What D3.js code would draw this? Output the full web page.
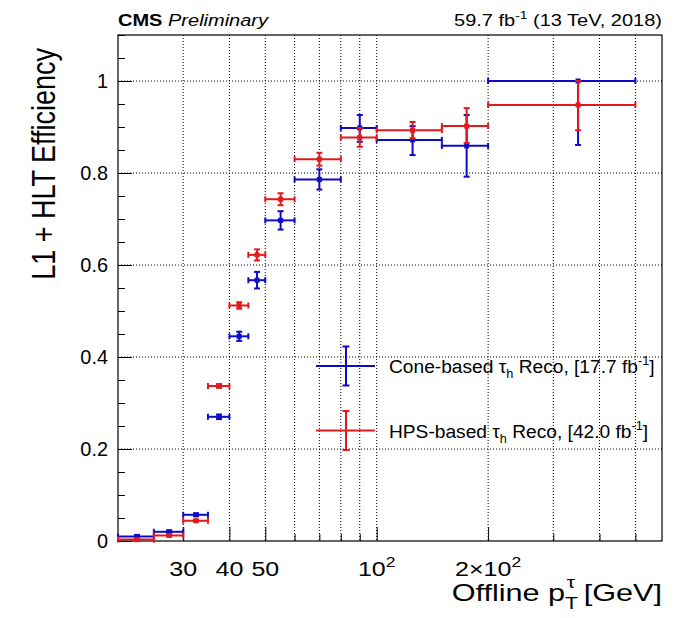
<!DOCTYPE html>
<html><head><meta charset="utf-8">
<script src="https://cdn.jsdelivr.net/npm/d3@7"></script>
<style>body{margin:0;background:#fff} text{font-family:"Liberation Sans",Arial,Helvetica,sans-serif;fill:#000}</style>
</head><body><svg id="c" width="677" height="618"></svg>
<script>
// ---- data ----
const binLow  = [20, 25, 30, 35, 40, 45, 50, 60, 80, 100, 150, 200];
const binHigh = [25, 30, 35, 40, 45, 50, 60, 80, 100, 150, 200, 500];
const coneEff     = [0.010, 0.020, 0.057, 0.270, 0.445, 0.567, 0.697, 0.786, 0.898, 0.872, 0.859, 1.000];
const coneErrLow  = [0.003, 0.003, 0.003, 0.005, 0.010, 0.018, 0.020, 0.022, 0.030, 0.033, 0.067, 0.139];
const coneErrHigh = [0.003, 0.003, 0.003, 0.005, 0.010, 0.018, 0.020, 0.022, 0.028, 0.030, 0.067, 0.000];
const hpsEff      = [0.003, 0.012, 0.044, 0.337, 0.512, 0.622, 0.743, 0.830, 0.877, 0.893, 0.902, 0.948];
const hpsErrLow   = [0.002, 0.002, 0.002, 0.004, 0.007, 0.012, 0.013, 0.014, 0.020, 0.018, 0.037, 0.055];
const hpsErrHigh  = [0.002, 0.002, 0.002, 0.004, 0.007, 0.012, 0.013, 0.014, 0.021, 0.018, 0.039, 0.052];
const seriesNames = ["Cone-based", "HPS-based"];
const seriesLumi  = ["17.7", "42.0"];
const xGridValues = [30, 40, 50, 60, 70, 80, 90, 100, 200, 300, 400, 500];
const xLabelValues = [30, 40, 50, 100, 200];
const xLabelMain   = ["30", "40", "50", "10", "2\u00D710"];
const xLabelSup    = ["", "", "", "2", "2"];
const yMajorTicks  = [0, 0.2, 0.4, 0.6, 0.8, 1.0];
const yTickLabels  = ["0", "0.2", "0.4", "0.6", "0.8", "1"];
const yMinorTicks  = d3.range(0, 1.1001, 0.05);

// ---- layout ----
const L = 118, R = 662, T = 35, B = 541;
const BLUE = "#0c0cc8", RED = "#e3191c";
const SX = 1.25; // horizontal stretch of the reference text
const svg = d3.select("#c");
const x = d3.scaleLog().domain([20, 590]).range([L, R]);
const y = d3.scaleLinear().domain([0, 1.1]).range([B, T]);

// grid
svg.append("g").selectAll("line").data(xGridValues).join("line")
  .attr("x1", d => x(d)).attr("x2", d => x(d)).attr("y1", T).attr("y2", B)
  .attr("stroke", "#000").attr("stroke-width", 1).attr("stroke-dasharray", "1,2");
svg.append("g").selectAll("line").data(yMajorTicks.filter(d => d > 0)).join("line")
  .attr("x1", L).attr("x2", R).attr("y1", d => y(d)).attr("y2", d => y(d))
  .attr("stroke", "#000").attr("stroke-width", 1).attr("stroke-dasharray", "1,2");

// y ticks (inward)
const yAxis = d3.axisRight(y).tickValues(yMinorTicks).tickSize(7).tickFormat("");
const gy = svg.append("g").attr("transform", `translate(${L},0)`).call(yAxis);
gy.select(".domain").remove();
gy.selectAll(".tick line").attr("x2", d => (Math.abs(d*5 - Math.round(d*5)) < 1e-6) ? 14 : 7).attr("stroke", "#000");
// x ticks (inward)
const xTickVals = [30,40,50,60,70,80,90,100,200,300,400,500];
const xAxis = d3.axisTop(x).tickValues(xTickVals).tickSize(7).tickFormat("");
const gx = svg.append("g").attr("transform", `translate(0,${B})`).call(xAxis);
gx.select(".domain").remove();
gx.selectAll(".tick line").attr("y2", d => xLabelValues.includes(d) ? -14 : -7).attr("stroke", "#000");

// frame
svg.append("rect").attr("x", L).attr("y", T).attr("width", R - L).attr("height", B - T)
  .attr("fill", "none").attr("stroke", "#000").attr("stroke-width", 1.2);

// y tick labels
yMajorTicks.forEach((v, i) => {
  svg.append("text").attr("transform", `translate(108,${y(v) + 7}) scale(1.02,1)`)
    .attr("text-anchor", "end").attr("font-size", 19.5).text(yTickLabels[i]);
});
// x tick labels
xLabelValues.forEach((v, i) => {
  const t = svg.append("text").attr("transform", `translate(${x(v)},576) scale(${SX},1)`)
    .attr("text-anchor", "middle").attr("font-size", 20);
  t.append("tspan").text(xLabelMain[i]);
  if (xLabelSup[i]) t.append("tspan").attr("dy", -9).attr("font-size", 14).text(xLabelSup[i]);
});

// axis titles
svg.append("text").attr("transform", `translate(55,48) rotate(-90) scale(1,${SX})`)
  .attr("text-anchor", "end").attr("font-size", 27).text("L1 + HLT Efficiency");
const xt = svg.append("text").attr("transform", `translate(662,601) scale(${SX},1)`)
  .attr("text-anchor", "end").attr("font-size", 24.5);
xt.append("tspan").text("Offline p");
xt.append("tspan").attr("font-size", 17).attr("dy", 8).text("T");
xt.append("tspan").attr("font-size", 17).attr("dx", -9).attr("dy", -21).text("\u03C4");
xt.append("tspan").attr("dy", 13).text("  [GeV]");

// header
const h1 = svg.append("text").attr("transform", `translate(118,26) scale(${SX},1)`).attr("font-size", 16);
h1.append("tspan").attr("font-weight", "bold").text("CMS");
h1.append("tspan").attr("font-style", "italic").text(" Preliminary");
const h2 = svg.append("text").attr("transform", `translate(662,26) scale(${SX},1)`).attr("text-anchor", "end").attr("font-size", 16);
h2.append("tspan").text("59.7 fb");
h2.append("tspan").attr("font-size", 11).attr("dy", -7).text("-1");
h2.append("tspan").attr("dy", 7).text(" (13 TeV, 2018)");

// series
function drawSeries(eff, eLo, eHi, color) {
  const g = svg.append("g").attr("stroke", color).attr("stroke-width", 2).attr("fill", color);
  const cap = 3;
  eff.forEach((v, i) => {
    const xl = x(binLow[i]), xh = x(binHigh[i]), xc = x((binLow[i] + binHigh[i]) / 2);
    const yc = y(v), yt = y(v + eHi[i]), yb = y(v - eLo[i]);
    g.append("line").attr("x1", xl).attr("x2", xh).attr("y1", yc).attr("y2", yc);
    g.append("line").attr("x1", xl).attr("x2", xl).attr("y1", yc - cap).attr("y2", yc + cap);
    g.append("line").attr("x1", xh).attr("x2", xh).attr("y1", yc - cap).attr("y2", yc + cap);
    g.append("line").attr("x1", xc).attr("x2", xc).attr("y1", yt).attr("y2", yb);
    g.append("line").attr("x1", xc - cap).attr("x2", xc + cap).attr("y1", yt).attr("y2", yt);
    g.append("line").attr("x1", xc - cap).attr("x2", xc + cap).attr("y1", yb).attr("y2", yb);
    g.append("rect").attr("x", xc - 2.5).attr("y", yc - 2.5).attr("width", 5).attr("height", 5).attr("stroke", "none");
  });
}
drawSeries(coneEff, coneErrLow, coneErrHigh, BLUE);
drawSeries(hpsEff, hpsErrLow, hpsErrHigh, RED);

// legend
[BLUE, RED].forEach((c, i) => {
  const cy = 366 + i * 64.5;
  const g = svg.append("g").attr("stroke", c).attr("stroke-width", 2);
  g.append("line").attr("x1", 316).attr("x2", 375).attr("y1", cy).attr("y2", cy);
  g.append("line").attr("x1", 346).attr("x2", 346).attr("y1", cy - 19.5).attr("y2", cy + 19.5);
  g.append("line").attr("x1", 342.5).attr("x2", 349.5).attr("y1", cy - 19.5).attr("y2", cy - 19.5);
  g.append("line").attr("x1", 342.5).attr("x2", 349.5).attr("y1", cy + 19.5).attr("y2", cy + 19.5);
  const t = svg.append("text").attr("transform", `translate(389,${cy + 7}) scale(1.02,1)`).attr("font-size", 18.8);
  t.append("tspan").text(seriesNames[i] + " \u03C4");
  t.append("tspan").attr("font-size", 12.5).attr("dy", 5).text("h");
  t.append("tspan").attr("dy", -5).text(" Reco, [" + seriesLumi[i] + " fb");
  t.append("tspan").attr("font-size", 12.5).attr("dy", -8).text("-1");
  t.append("tspan").attr("dy", 8).text("]");
});
</script></body></html>
